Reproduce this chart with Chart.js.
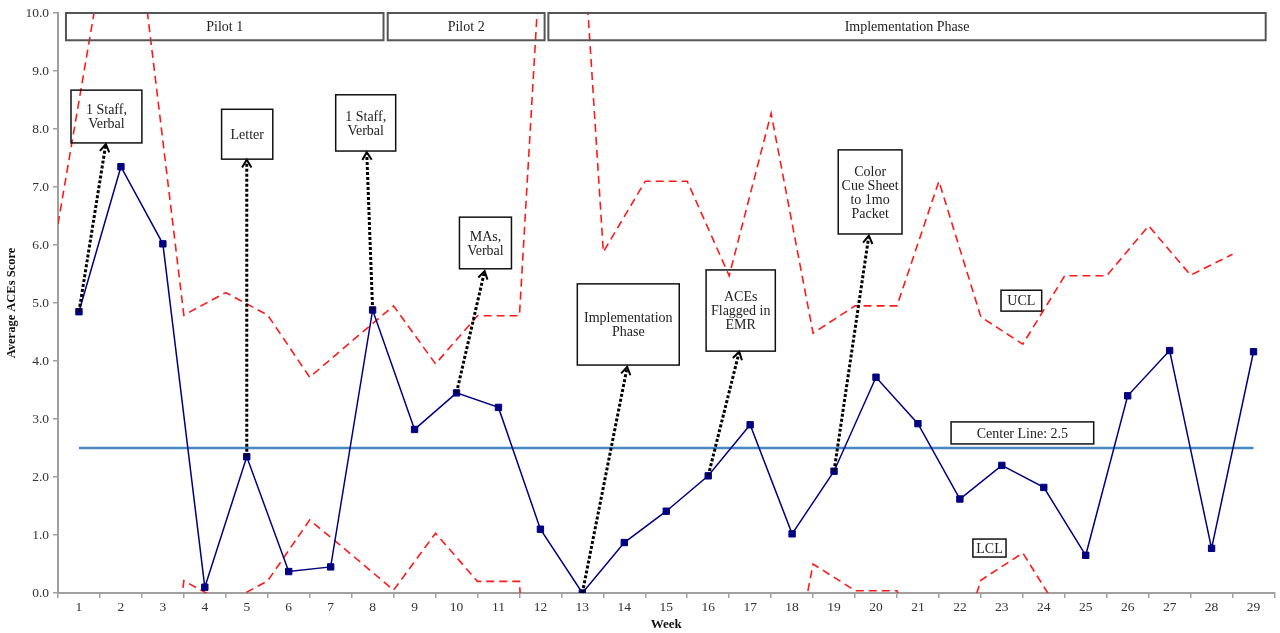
<!DOCTYPE html>
<html>
<head>
<meta charset="utf-8">
<script src="https://cdn.jsdelivr.net/npm/chart.js@4/dist/chart.umd.min.js"></script>
<style>
  body { margin: 0; background: #fff; }
  canvas { display: block; }
</style>
</head>
<body>
<canvas id="spcChart" width="1280" height="633"></canvas>
<script>
// weeks on the x axis
var weeks = ['1', '2', '3', '4', '5', '6', '7', '8', '9', '10', '11', '12', '13', '14', '15',
  '16', '17', '18', '19', '20', '21', '22', '23', '24', '25', '26', '27', '28', '29'];

// average ACEs score per week
var aceScores = [4.85, 7.35, 6.02, 0.10, 2.35, 0.37, 0.45, 4.88, 2.82, 3.45, 3.20, 1.10, 0.00, 0.87,
  1.41, 2.02, 2.90, 1.02, 2.10, 3.72, 2.92, 1.62, 2.20, 1.82, 0.65, 3.40, 4.18, 0.77, 4.16];

// control limits are plotted half a week early (between the week ticks)
var limitWeeks = [0.5, 1.5, 2.5, 3.5, 4.5, 5.5, 6.5, 7.5, 8.5, 9.5, 10.5, 11.5, 12.5, 13.5, 14.5,
  15.5, 16.5, 17.5, 18.5, 19.5, 20.5, 21.5, 22.5, 23.5, 24.5, 25.5, 26.5, 27.5, 28.5];
var uclValues = [6.36, 10.6, 10.8, 4.79, 5.18, 4.79, 3.72, 4.34, 4.95, 3.95, 4.78, 4.78, 17.2, 5.88,
  7.10, 7.10, 5.47, 8.27, 4.48, 4.95, 4.95, 7.10, 4.76, 4.29, 5.47, 5.47, 6.33, 5.48, 5.84];
var lclValues = [-1.36, -5.6, -5.8, 0.21, -0.18, 0.21, 1.26, 0.66, 0.05, 1.03, 0.20, 0.20, -12.2, -0.88,
  -2.10, -2.10, -0.47, -3.27, 0.50, 0.04, 0.04, -2.10, 0.22, 0.69, -0.47, -0.47, -1.33, -0.48, -0.84];

var centerLine = 2.5;
var centerSpan = [1, 29];

// annotation layout (in week / score units)
var phaseBoxes = [
  { text: 'Pilot 1', x0: 0.69, x1: 8.26 },
  { text: 'Pilot 2', x0: 8.36, x1: 12.10 },
  { text: 'Implementation Phase', x0: 12.19, x1: 29.29 }
];
var noteBoxes = [
  { lines: ['1 Staff,', 'Verbal'], x0: 0.81, x1: 2.50, y0: 8.67, y1: 7.76 },
  { lines: ['Letter'], x0: 4.40, x1: 5.62, y0: 8.34, y1: 7.48 },
  { lines: ['1 Staff,', 'Verbal'], x0: 7.12, x1: 8.55, y0: 8.59, y1: 7.62 },
  { lines: ['MAs,', 'Verbal'], x0: 10.07, x1: 11.31, y0: 6.48, y1: 5.59 },
  { lines: ['Implementation', 'Phase'], x0: 12.88, x1: 15.31, y0: 5.33, y1: 3.93 },
  { lines: ['ACEs', 'Flagged in', 'EMR'], x0: 15.95, x1: 17.60, y0: 5.57, y1: 4.17 },
  { lines: ['Color', 'Cue Sheet', 'to 1mo', 'Packet'], x0: 19.10, x1: 20.62, y0: 7.64, y1: 6.19 },
  { lines: ['UCL'], x0: 22.98, x1: 23.95, y0: 5.22, y1: 4.86 },
  { lines: ['Center Line: 2.5'], x0: 21.79, x1: 25.19, y0: 2.95, y1: 2.57 },
  { lines: ['LCL'], x0: 22.31, x1: 23.10, y0: 0.93, y1: 0.62 }
];
var arrows = [
  { from: [1, 4.85], to: [1.64, 7.74] },
  { from: [5, 2.35], to: [5.0, 7.47] },
  { from: [8, 4.88], to: [7.86, 7.60] },
  { from: [10, 3.45], to: [10.67, 5.55] },
  { from: [13, 0.0], to: [14.07, 3.90] },
  { from: [16, 2.02], to: [16.74, 4.16] },
  { from: [19, 2.10], to: [19.83, 6.16] }
];

var serif = "'Liberation Serif', 'Times New Roman', serif";

function toPoints(xs, ys) {
  return xs.map(function (x, i) { return { x: x, y: ys[i] }; });
}

var annotatePlugin = {
  id: 'annotate',
  afterDatasetsDraw: function (chart) {
    var ctx = chart.ctx;
    var sx = chart.scales.x2, sy = chart.scales.y;
    ctx.save();

    // dotted arrows
    arrows.forEach(function (a) {
      var x0 = sx.getPixelForValue(a.from[0]), y0 = sy.getPixelForValue(a.from[1]);
      var x1 = sx.getPixelForValue(a.to[0]), y1 = sy.getPixelForValue(a.to[1]);
      var ang = Math.atan2(y1 - y0, x1 - x0);
      ctx.strokeStyle = '#000';
      ctx.lineWidth = 3;
      ctx.setLineDash([3, 2]);
      ctx.beginPath();
      ctx.moveTo(x0, y0);
      ctx.lineTo(x1 - 2 * Math.cos(ang), y1 - 2 * Math.sin(ang));
      ctx.stroke();
      ctx.setLineDash([]);
      ctx.lineWidth = 2;
      ctx.beginPath();
      ctx.moveTo(x1 - 9 * Math.cos(ang - 0.55), y1 - 9 * Math.sin(ang - 0.55));
      ctx.lineTo(x1, y1);
      ctx.lineTo(x1 - 9 * Math.cos(ang + 0.55), y1 - 9 * Math.sin(ang + 0.55));
      ctx.stroke();
    });

    ctx.textAlign = 'center';
    ctx.textBaseline = 'middle';
    ctx.fillStyle = '#222';

    // phase boxes along the top
    var top = sy.getPixelForValue(10), bot = sy.getPixelForValue(9.53);
    phaseBoxes.forEach(function (b) {
      var l = sx.getPixelForValue(b.x0), r = sx.getPixelForValue(b.x1);
      ctx.strokeStyle = '#555';
      ctx.lineWidth = 2;
      ctx.strokeRect(l, top, r - l, bot - top);
      ctx.font = '14px ' + serif;
      ctx.fillText(b.text, (l + r) / 2, (top + bot) / 2 + 1);
    });

    // callout boxes
    noteBoxes.forEach(function (b) {
      var l = sx.getPixelForValue(b.x0), r = sx.getPixelForValue(b.x1);
      var t = sy.getPixelForValue(b.y0), btm = sy.getPixelForValue(b.y1);
      ctx.strokeStyle = '#111';
      ctx.lineWidth = 1.5;
      ctx.strokeRect(l, t, r - l, btm - t);
      ctx.font = '14px ' + serif;
      var lh = 14;
      var cy = (t + btm) / 2 - (b.lines.length - 1) * lh / 2;
      b.lines.forEach(function (s, i) {
        ctx.fillText(s, (l + r) / 2, cy + i * lh + 1);
      });
    });

    ctx.restore();
  }
};

var ctx = document.getElementById('spcChart').getContext('2d');
var spcChart = new Chart(ctx, {
  type: 'line',
  data: {
    labels: weeks,
    datasets: [
      {
        label: 'Average ACEs Score',
        data: aceScores,
        xAxisID: 'x',
        borderColor: '#000080',
        backgroundColor: '#000080',
        borderWidth: 1.5,
        pointStyle: 'rect',
        pointRadius: 4.5,
        pointBorderWidth: 1,
        tension: 0,
        order: 1
      },
      {
        label: 'Center Line',
        data: toPoints(centerSpan, [centerLine, centerLine]),
        xAxisID: 'x2',
        borderColor: '#4a86c0',
        borderWidth: 2.5,
        pointRadius: 0,
        order: 2
      },
      {
        label: 'UCL',
        data: toPoints(limitWeeks, uclValues),
        xAxisID: 'x2',
        borderColor: '#ff1a1a',
        borderWidth: 1.6,
        borderDash: [8, 5],
        pointRadius: 0,
        clip: 0,
        order: 3
      },
      {
        label: 'LCL',
        data: toPoints(limitWeeks, lclValues),
        xAxisID: 'x2',
        borderColor: '#ff1a1a',
        borderWidth: 1.6,
        borderDash: [8, 5],
        pointRadius: 0,
        clip: 0,
        order: 3
      }
    ]
  },
  options: {
    responsive: false,
    animation: false,
    layout: { padding: { top: 13, right: 3, left: 0, bottom: 0 } },
    plugins: {
      legend: { display: false },
      tooltip: { enabled: false }
    },
    scales: {
      x: {
        type: 'category',
        offset: true,
        grid: { offset: true, drawOnChartArea: false, tickLength: 5, color: '#a0a0a0', lineWidth: 1.5 },
        border: { color: '#a0a0a0', width: 2 },
        ticks: { autoSkip: false, maxRotation: 0, padding: 1, color: '#333', font: { family: serif, size: 13.5 } },
        title: { display: true, text: 'Week', color: '#111', padding: { top: 0, bottom: 1 },
          font: { family: serif, size: 13, weight: 'bold' } },
        afterFit: function (scale) { scale.height = 40; }
      },
      x2: {
        type: 'linear',
        display: false,
        min: 0.5,
        max: 29.5
      },
      y: {
        min: 0,
        max: 10,
        grid: { drawOnChartArea: false, tickLength: 5, color: '#a0a0a0', lineWidth: 1.5 },
        border: { color: '#a0a0a0', width: 2 },
        ticks: {
          stepSize: 1,
          padding: 4,
          color: '#333',
          font: { family: serif, size: 13.5 },
          callback: function (v) { return v.toFixed(1); }
        },
        title: { display: true, text: 'Average ACEs Score', color: '#111',
          font: { family: serif, size: 12.5, weight: 'bold' } },
        afterFit: function (scale) { scale.width = 58; }
      }
    }
  },
  plugins: [annotatePlugin]
});
</script>
</body>
</html>
